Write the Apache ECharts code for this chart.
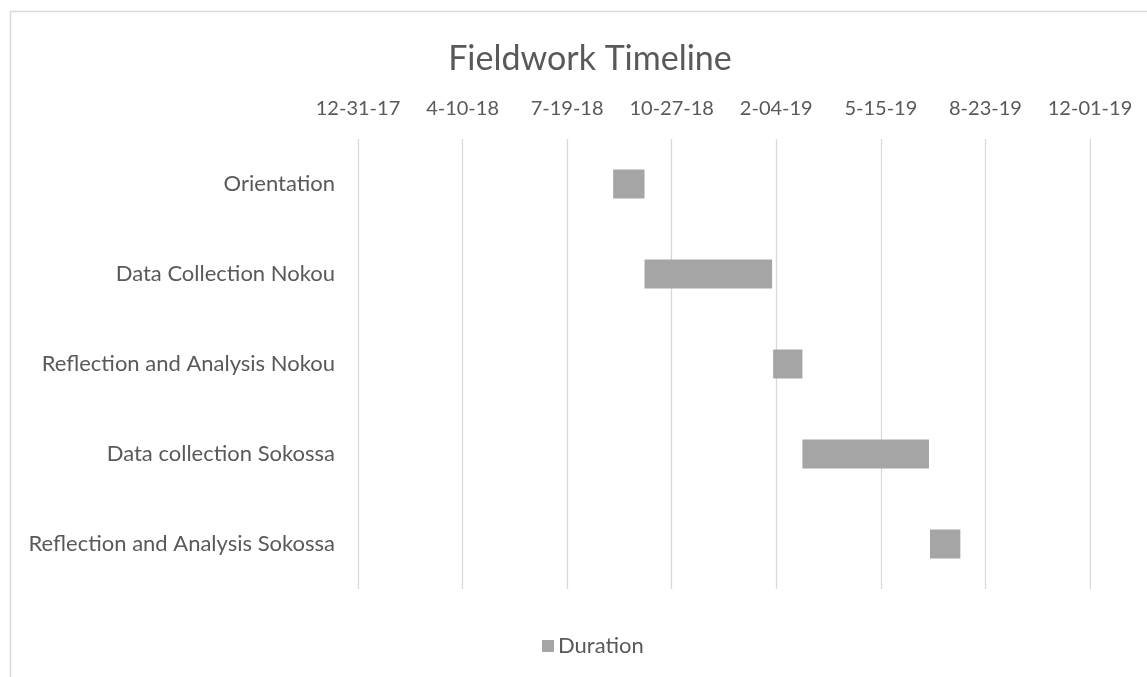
<!DOCTYPE html>
<html>
<head>
<meta charset="utf-8">
<title>Fieldwork Timeline</title>
<script src="https://cdn.jsdelivr.net/npm/echarts@6/dist/echarts.min.js"></script>
<style>
  html, body { margin: 0; padding: 0; background: #ffffff; }
  #chart { width: 1147px; height: 677px; }
</style>
</head>
<body>
<div id="chart"></div>
<script>
// Fieldwork phases (top to bottom)
const tasks = [
  'Orientation',
  'Data Collection Nokou',
  'Reflection and Analysis Nokou',
  'Data collection Sokossa',
  'Reflection and Analysis Sokossa'
];
// Start date of each phase (YYYY-MM-DD)
const startDates = ['2018-09-01', '2018-10-01', '2019-02-01', '2019-03-01', '2019-07-01'];
// Length of each phase in days
const durations = [30, 122, 28, 121, 29];

// Date axis range and step, in days
const axisStart = '2017-12-31';
const axisSpanDays = 700;
const tickStepDays = 100;

// Day numbers counted like spreadsheet serial dates (day 0 = 1899-12-30)
const SERIAL_EPOCH = Date.UTC(1899, 11, 30);
const DAY_MS = 86400000;
function toSerial(iso) {
  const [y, m, d] = iso.split('-').map(Number);
  return Math.round((Date.UTC(y, m - 1, d) - SERIAL_EPOCH) / DAY_MS);
}
function serialLabel(serial) {
  const dt = new Date(SERIAL_EPOCH + serial * DAY_MS);
  const m = dt.getUTCMonth() + 1;
  const d = String(dt.getUTCDate()).padStart(2, '0');
  const y = String(dt.getUTCFullYear() % 100).padStart(2, '0');
  return m + '-' + d + '-' + y;
}

const startSerials = startDates.map(toSerial);
const axisMin = toSerial(axisStart);
const axisMax = axisMin + axisSpanDays;

const textColor = '#595959';
const fontFamily = 'Lato, "Open Sans", sans-serif';

const chart = echarts.init(document.getElementById('chart'), null, { renderer: 'canvas' });

chart.setOption({
  backgroundColor: '#ffffff',
  animation: false,
  textStyle: { fontFamily: fontFamily, color: textColor },
  title: {
    text: 'Fieldwork Timeline',
    left: 585,
    textAlign: 'center',
    top: 37,
    textStyle: { fontFamily: fontFamily, fontSize: 34, fontWeight: 'normal', color: textColor }
  },
  graphic: [{
    type: 'rect',
    shape: { x: 10.5, y: 11.5, width: 1160, height: 700 },
    style: { fill: 'none', stroke: '#D9D9D9', lineWidth: 1.5 },
    silent: true,
    z: -1
  }],
  legend: {
    data: ['Duration'],
    left: 537,
    top: 630,
    itemWidth: 12,
    itemHeight: 12,
    itemGap: 4,
    icon: 'rect',
    textStyle: { fontFamily: fontFamily, fontSize: 22, color: textColor, padding: [0, 0, 0, -1] }
  },
  grid: {
    left: 358,
    right: 57,
    top: 139,
    bottom: 88,
    containLabel: false
  },
  xAxis: {
    type: 'value',
    position: 'top',
    min: axisMin,
    max: axisMax,
    interval: tickStepDays,
    axisLine: { show: false },
    axisTick: { show: false },
    splitLine: { show: true, lineStyle: { color: '#D9D9D9', width: 1.3 } },
    axisLabel: {
      margin: 20,
      fontSize: 20,
      color: textColor,
      fontFamily: fontFamily,
      formatter: serialLabel
    }
  },
  yAxis: {
    type: 'category',
    inverse: true,
    data: tasks,
    axisLine: { show: false },
    axisTick: { show: false },
    splitLine: { show: false },
    axisLabel: { margin: 23, fontSize: 22, color: textColor, fontFamily: fontFamily }
  },
  series: [
    {
      name: 'Start',
      type: 'bar',
      stack: 'timeline',
      data: startSerials,
      barWidth: 29,
      itemStyle: { color: 'rgba(0,0,0,0)' },
      silent: true,
      emphasis: { disabled: true }
    },
    {
      name: 'Duration',
      type: 'bar',
      stack: 'timeline',
      data: durations,
      barWidth: 29,
      itemStyle: { color: '#A5A5A5' }
    }
  ]
});
</script>
</body>
</html>
